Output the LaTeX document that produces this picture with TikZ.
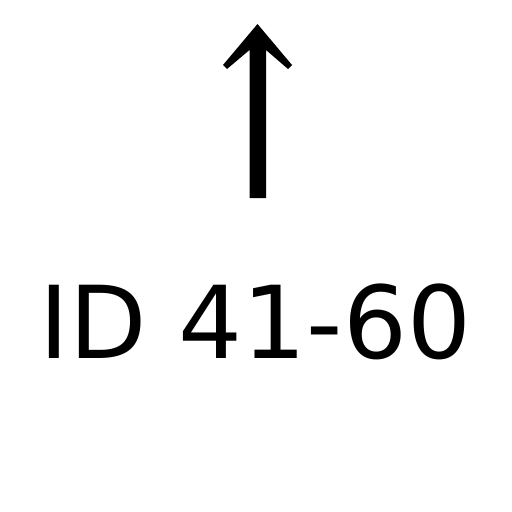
\documentclass[tikz,border=0pt]{standalone}
\usepackage{fontspec}
\setmainfont{DejaVu Sans}
\begin{document}
\begin{tikzpicture}[x=0.01cm,y=-0.01cm,
  label text/.style={font=\fontsize{28.6}{32}\selectfont, inner sep=0pt, anchor=base}]
\useasboundingbox (0,0) rectangle (512,512);

% Up arrow
\fill[black] (249.5,198) -- (249.5,50) -- (227,69) -- (223,65) -- (257.5,24)
  -- (292,65) -- (288,69) -- (266,50) -- (266,198) -- cycle;

% Label
\node[label text] (idrange) at (255.5,358) {ID 41-60};

\end{tikzpicture}
\end{document}
